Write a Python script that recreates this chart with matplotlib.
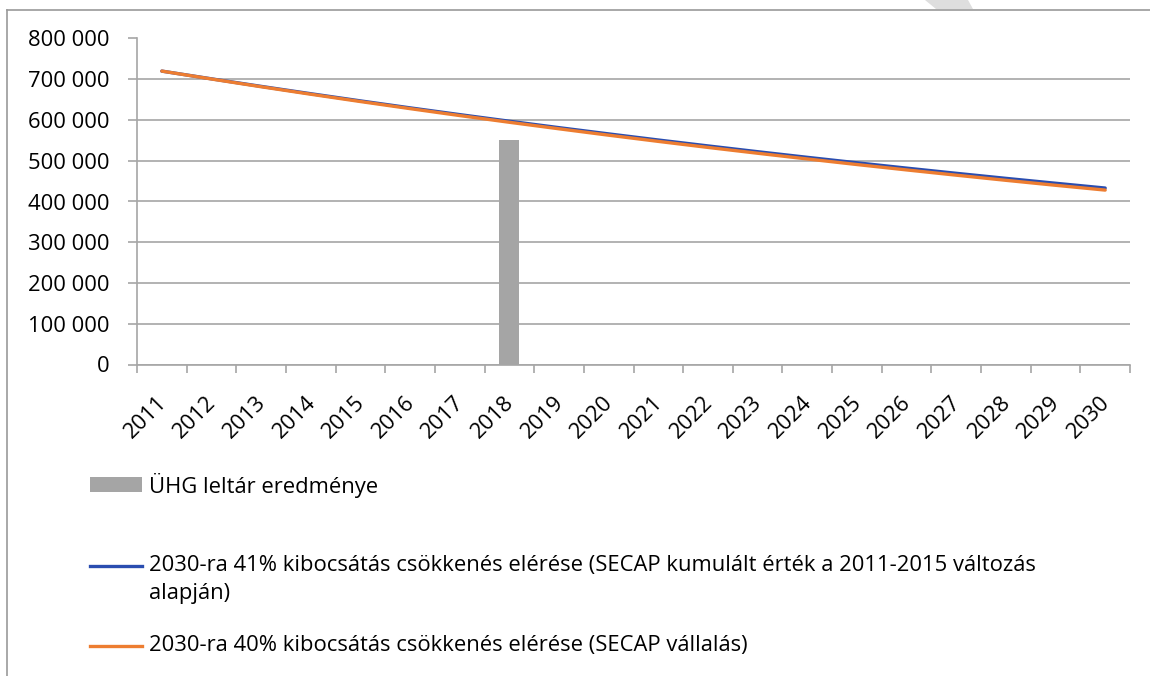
import matplotlib
matplotlib.use("Agg")
import matplotlib.pyplot as plt
from matplotlib.patches import Rectangle, Polygon
from matplotlib.lines import Line2D
from matplotlib.ticker import FuncFormatter
from matplotlib.transforms import ScaledTranslation

years = [str(y) for y in range(2011, 2031)]

# ÜHG leltár (only 2018 known)
bar_year = "2018"
bar_value = 550000

# values (thousand t), rough estimates
blue_vals = [720.0, 701.0, 682.5, 664.5, 646.9, 629.8, 613.2, 597.0, 581.2, 565.9,
             550.9, 536.4, 522.2, 508.4, 495.0, 481.9, 469.2, 456.8, 444.8, 433.0]
orange_vals = [720.0, 700.6, 681.6, 663.2, 645.3, 627.9, 610.9, 594.4, 578.4, 562.7,
               547.5, 532.7, 518.4, 504.4, 490.7, 477.5, 464.6, 452.0, 439.8, 428.0]

labels = ["ÜHG leltár eredménye",
          "2030-ra 41% kibocsátás csökkenés elérése (SECAP kumulált érték a 2011-2015 változás\nalapján)",
          "2030-ra 40% kibocsátás csökkenés elérése (SECAP vállalás)"]

c_bar = "#a5a5a5"
c_blue = "#2a4db0"
c_orange = "#ed7d31"
c_grid = "#a6a6a6"

plt.rcParams['font.family'] = ['Open Sans', 'DejaVu Sans']
fs = 15.8

W, H = 1150, 676
fig = plt.figure(figsize=(W / 100, H / 100), dpi=100)
ax = fig.add_axes([137 / W, 1 - 364.5 / H, (1130 - 137) / W, (364.5 - 38.5) / H])

x = list(range(len(years)))
ax.bar(years.index(bar_year), bar_value, width=0.4, color=c_bar, zorder=2)
ax.plot(x, [v * 1000 for v in blue_vals], color=c_blue, lw=2.4, zorder=3,
        solid_capstyle='round')
ax.plot(x, [v * 1000 for v in orange_vals], color=c_orange, lw=2.4, zorder=4,
        solid_capstyle='round')

ax.set_xlim(-0.5, len(years) - 0.5)
ax.set_ylim(0, 800000)
ax.set_yticks(range(0, 800001, 100000))
ax.yaxis.set_major_formatter(FuncFormatter(lambda v, p: f"{int(v):,}".replace(",", " ")))
ax.grid(axis='y', color=c_grid, lw=1.2, zorder=0)
ax.set_axisbelow(True)

# category ticks at boundaries, labels at centres
ax.set_xticks([i - 0.5 for i in range(len(years) + 1)])
ax.set_xticklabels([])
ax.set_xticks(x, minor=True)
ax.set_xticklabels(years, minor=True, rotation=45, ha='right', va='top',
                   rotation_mode='anchor', fontsize=fs)
ax.tick_params(axis='x', which='minor', length=0, pad=20)
ax.tick_params(axis='x', which='major', length=6, color=c_grid, width=1.2)
ax.tick_params(axis='y', length=6.5, color=c_grid, width=1.2, labelsize=fs, pad=13)
shift = ScaledTranslation(-6 / 100, 0, fig.dpi_scale_trans)
for lbl in ax.get_xticklabels(minor=True):
    lbl.set_transform(lbl.get_transform() + shift)

for s in ['top', 'right']:
    ax.spines[s].set_visible(False)
for s in ['left', 'bottom']:
    ax.spines[s].set_color(c_grid)
    ax.spines[s].set_linewidth(1.2)

# chart border (cropped on right/bottom)
fig.add_artist(Line2D([7 / W, 7 / W], [0, 1 - 10 / H], color="#9a9a9a", lw=1.2))
fig.add_artist(Line2D([7 / W, 1], [1 - 10 / H, 1 - 10 / H], color="#9a9a9a", lw=1.2))
# watermark fragment
fig.add_artist(Polygon([(925 / W, 1), (968 / W, 1), (973 / W, 1 - 9 / H), (936 / W, 1 - 9 / H)],
                       closed=True, color="#dedede", lw=0))

# legend drawn by hand (uneven spacing in reference)
fig.add_artist(Rectangle((90 / W, 1 - 492 / H), 52 / W, 15 / H, color=c_bar, lw=0))
fig.text(149 / W, 1 - 486 / H, labels[0], fontsize=fs, va='center', ha='left')
fig.add_artist(Line2D([90 / W, 142 / W], [1 - 566 / H] * 2, color=c_blue, lw=2.4))
fig.text(149 / W, 1 - 566 / H, labels[1].split("\n")[0], fontsize=fs, va='center', ha='left')
fig.text(149 / W, 1 - 594 / H, labels[1].split("\n")[1], fontsize=fs, va='center', ha='left')
fig.add_artist(Line2D([90 / W, 142 / W], [1 - 646 / H] * 2, color=c_orange, lw=2.4))
fig.text(149 / W, 1 - 646 / H, labels[2], fontsize=fs, va='center', ha='left')

fig.savefig("out.png", dpi=100)
